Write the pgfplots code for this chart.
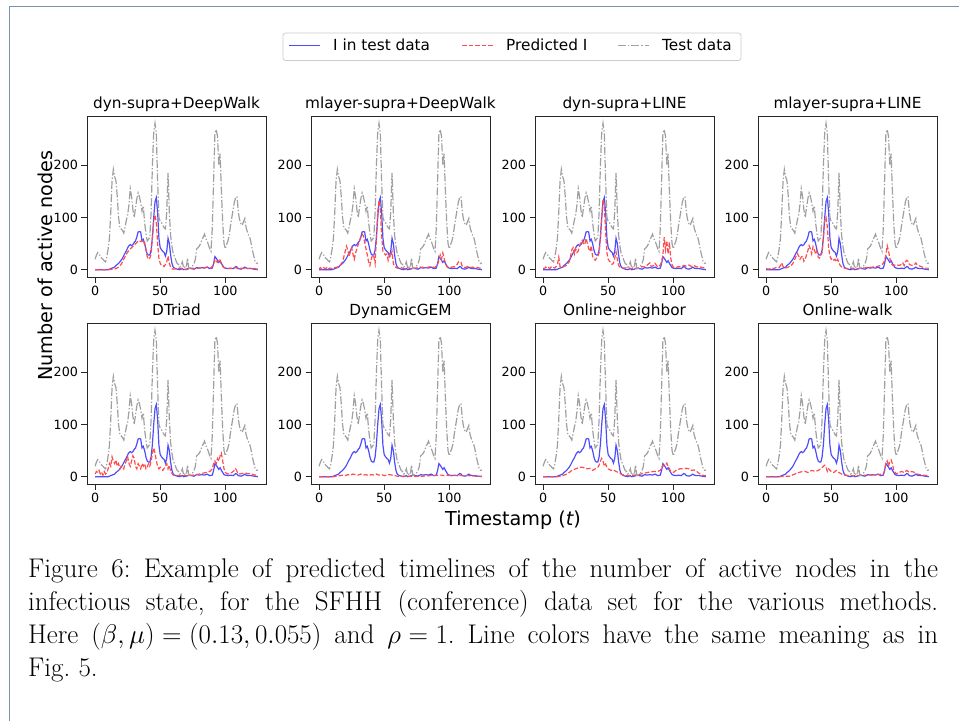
\RequirePackage{fix-cm}
\documentclass[border=0pt]{standalone}
\usepackage{fontspec}
\usepackage{pgfplots}
\usepackage{pgfplotstable}
\pgfplotsset{compat=1.18}
\newfontfamily\dejavu{DejaVu Sans}
\definecolor{framecol}{RGB}{120,146,182}
\definecolor{lineblue}{RGB}{77,77,255}
\definecolor{linered}{RGB}{255,77,77}
\definecolor{linegray}{RGB}{160,160,160}

\newcommand\ticksize{\dejavu\fontsize{12.7pt}{15pt}\selectfont}
\newcommand\titlesize{\dejavu\fontsize{15.3pt}{18pt}\selectfont}
\newcommand\labsize{\dejavu\fontsize{19.2pt}{23pt}\selectfont}
\newcommand\capfont{\fontsize{27pt}{33pt}\selectfont\frenchspacing}

% shared series
\pgfplotstableread[row sep=\\]{t v\\
0 20\\ 1 28\\ 2 33\\ 3 30\\ 4 26\\ 5 22\\ 6 20\\ 7 17\\ 8 15\\ 9 25\\ 10 40\\ 11 60\\ 12 110\\ 13 170\\ 14 192\\ 15 178\\ 16 170\\ 17 140\\ 18 100\\ 19 80\\
20 78\\ 21 75\\ 22 70\\ 23 82\\ 24 95\\ 25 105\\ 26 125\\ 27 155\\ 28 140\\ 29 115\\ 30 100\\ 31 118\\ 32 135\\ 33 147\\ 34 140\\ 35 128\\ 36 112\\ 37 122\\ 38 90\\ 39 70\\
40 55\\ 41 58\\ 42 62\\ 43 110\\ 44 200\\ 45 262\\ 46 280\\ 47 260\\ 48 170\\ 49 100\\ 50 92\\ 51 90\\ 52 85\\ 53 80\\ 54 78\\ 55 110\\ 56 185\\ 57 110\\ 58 65\\ 59 45\\
60 30\\ 61 25\\ 62 18\\ 63 12\\ 64 10\\ 65 5\\ 66 8\\ 67 15\\ 68 3\\ 69 5\\ 70 4\\ 71 22\\ 72 2\\ 73 3\\ 74 5\\ 75 8\\ 76 12\\ 77 20\\ 78 40\\ 79 42\\
80 45\\ 81 50\\ 82 58\\ 83 62\\ 84 68\\ 85 60\\ 86 55\\ 87 48\\ 88 40\\ 89 35\\ 90 80\\ 91 170\\ 92 262\\ 93 268\\ 94 255\\ 95 200\\ 96 222\\ 97 150\\ 98 90\\ 99 50\\
100 40\\ 101 48\\ 102 55\\ 103 65\\ 104 85\\ 105 100\\ 106 115\\ 107 130\\ 108 138\\ 109 140\\ 110 110\\ 111 95\\ 112 88\\ 113 85\\ 114 92\\ 115 98\\ 116 80\\ 117 72\\ 118 65\\ 119 60\\
120 48\\ 121 35\\ 122 25\\ 123 15\\ 124 12\\ 125 13\\
}\testdata

\pgfplotstableread[row sep=\\]{t v\\
0 0\\ 5 0\\ 10 0\\ 11 1\\ 12 2\\ 13 3\\ 14 4\\ 15 5\\ 16 8\\ 17 10\\ 18 12\\ 19 15\\ 20 18\\ 21 22\\ 22 27\\ 23 32\\ 24 36\\ 25 42\\ 26 46\\ 27 48\\ 28 46\\ 29 48\\
30 52\\ 31 55\\ 32 62\\ 33 72\\ 34 73\\ 35 72\\ 36 55\\ 37 58\\ 38 50\\ 39 38\\ 40 30\\ 41 28\\ 42 28\\ 43 38\\ 44 62\\ 45 100\\ 46 130\\ 47 138\\ 48 110\\ 49 60\\
50 42\\ 51 38\\ 52 35\\ 53 33\\ 54 26\\ 55 35\\ 56 60\\ 57 50\\ 58 28\\ 59 12\\ 60 5\\ 61 3\\ 62 2\\ 63 1\\ 65 0\\ 66 1\\ 67 2\\ 68 0\\ 70 1\\ 72 3\\ 74 2\\ 76 1\\ 78 4\\
80 3\\ 82 4\\ 84 3\\ 86 5\\ 88 2\\ 90 3\\ 91 12\\ 92 25\\ 93 22\\ 94 18\\ 95 14\\ 96 17\\ 97 12\\ 98 8\\ 99 4\\ 100 3\\ 102 2\\ 104 3\\ 106 2\\ 108 6\\ 109 5\\
110 2\\ 112 1\\ 114 3\\ 115 5\\ 116 3\\ 118 2\\ 120 2\\ 122 1\\ 125 0\\
}\Idata

% predicted I, one table per method
\pgfplotstableread[row sep=\\]{t v\\
0 0\\ 5 0\\ 10 0\\ 14 1\\ 16 2\\ 18 5\\ 20 10\\ 22 20\\ 24 30\\ 26 37\\ 28 42\\ 30 47\\ 32 52\\ 33 55\\ 34 55\\ 35 54\\ 36 56\\ 37 50\\ 38 52\\ 39 40\\
40 25\\ 41 20\\ 42 22\\ 43 30\\ 44 62\\ 45 92\\ 46 105\\ 47 90\\ 48 50\\ 49 22\\ 50 12\\ 51 8\\ 52 8\\ 53 6\\ 54 10\\ 55 15\\ 56 26\\ 57 12\\ 58 5\\ 59 2\\
60 1\\ 63 2\\ 66 3\\ 70 0\\ 74 3\\ 78 2\\ 80 4\\ 83 3\\ 86 5\\ 89 3\\ 91 10\\ 92 20\\ 93 16\\ 94 14\\ 95 20\\ 96 18\\ 97 10\\ 98 6\\ 100 3\\ 104 2\\ 108 4\\ 110 2\\ 113 3\\ 116 2\\ 120 3\\ 125 1\\
}\predA

\pgfplotstableread[row sep=\\]{t v\\
0 2\\ 1 4\\ 2 1\\ 3 5\\ 4 3\\ 5 2\\ 6 4\\ 7 1\\ 8 3\\ 10 2\\ 12 4\\ 14 5\\ 16 8\\ 18 15\\ 19 25\\ 20 35\\ 21 45\\ 22 38\\ 23 25\\ 24 35\\ 25 42\\ 26 30\\ 27 20\\ 28 32\\ 29 40\\
30 48\\ 31 55\\ 32 62\\ 33 68\\ 34 65\\ 35 52\\ 36 40\\ 37 28\\ 38 15\\ 39 8\\ 40 20\\ 41 28\\ 42 25\\ 43 12\\ 44 60\\ 45 110\\ 46 132\\ 47 115\\ 48 65\\ 49 35\\
50 32\\ 51 28\\ 52 30\\ 53 18\\ 54 28\\ 55 25\\ 56 35\\ 57 12\\ 58 6\\ 60 3\\ 62 5\\ 65 2\\ 68 4\\ 70 2\\ 74 3\\ 78 5\\ 82 4\\ 86 6\\ 89 4\\ 91 10\\ 92 18\\ 93 28\\ 94 20\\ 95 32\\ 96 22\\ 97 12\\ 98 6\\
100 4\\ 102 5\\ 104 6\\ 106 10\\ 107 15\\ 108 16\\ 109 14\\ 110 6\\ 112 4\\ 114 6\\ 116 4\\ 118 5\\ 120 3\\ 122 4\\ 125 2\\
}\predB

\pgfplotstableread[row sep=\\]{t v\\
0 3\\ 1 2\\ 2 5\\ 3 3\\ 4 4\\ 5 2\\ 6 5\\ 7 3\\ 8 4\\ 9 3\\ 10 6\\ 11 10\\ 12 24\\ 13 6\\ 14 4\\ 15 5\\ 16 6\\ 17 7\\ 18 9\\ 19 12\\ 20 15\\ 21 25\\ 22 38\\ 23 42\\ 24 30\\ 25 40\\ 26 33\\ 27 36\\ 28 45\\ 29 52\\
30 56\\ 31 50\\ 32 48\\ 33 60\\ 34 50\\ 35 40\\ 36 35\\ 37 46\\ 38 25\\ 39 22\\ 40 18\\ 41 22\\ 42 26\\ 43 32\\ 44 62\\ 45 100\\ 46 135\\ 47 122\\ 48 72\\ 49 32\\
50 20\\ 51 16\\ 52 14\\ 53 10\\ 54 12\\ 55 22\\ 56 34\\ 57 20\\ 58 8\\ 59 5\\ 60 4\\ 62 3\\ 65 4\\ 68 2\\ 70 3\\ 72 2\\ 74 4\\ 76 6\\ 78 5\\ 80 9\\ 82 13\\ 83 6\\ 85 8\\ 86 12\\ 88 5\\
90 9\\ 91 15\\ 92 28\\ 93 62\\ 94 38\\ 95 55\\ 96 30\\ 97 52\\ 98 22\\ 99 10\\ 100 5\\ 102 4\\ 104 6\\ 106 5\\ 108 8\\ 110 7\\ 112 9\\ 114 6\\ 116 8\\ 118 5\\ 120 6\\ 122 4\\ 125 3\\
}\predC

\pgfplotstableread[row sep=\\]{t v\\
0 2\\ 2 1\\ 4 3\\ 6 2\\ 8 5\\ 10 4\\ 11 8\\ 12 13\\ 13 6\\ 14 3\\ 16 4\\ 18 6\\ 20 10\\ 21 14\\ 22 20\\ 23 26\\ 24 31\\ 25 26\\ 26 20\\ 27 24\\ 28 26\\ 29 16\\
30 20\\ 31 28\\ 32 36\\ 33 46\\ 34 40\\ 35 30\\ 36 44\\ 37 38\\ 38 30\\ 39 36\\ 40 24\\ 41 22\\ 42 30\\ 43 32\\ 44 62\\ 45 95\\ 46 100\\ 47 82\\ 48 42\\ 49 26\\
50 20\\ 51 22\\ 52 18\\ 53 20\\ 54 15\\ 55 20\\ 56 12\\ 57 8\\ 58 5\\ 60 3\\ 63 2\\ 66 3\\ 70 2\\ 74 3\\ 78 4\\ 82 5\\ 85 6\\ 88 8\\ 90 12\\ 91 18\\ 92 28\\ 93 46\\ 94 36\\ 95 22\\ 96 12\\ 97 9\\ 98 8\\
100 10\\ 102 8\\ 104 10\\ 105 13\\ 106 8\\ 107 15\\ 108 18\\ 109 16\\ 110 10\\ 112 8\\ 114 10\\ 115 13\\ 116 9\\ 118 7\\ 120 5\\ 122 3\\ 125 3\\
}\predD

\pgfplotstableread[row sep=\\]{t v\\
0 5\\ 1 10\\ 2 8\\ 3 12\\ 4 5\\ 5 8\\ 6 3\\ 7 10\\ 8 5\\ 9 8\\ 10 15\\ 11 25\\ 12 20\\ 13 38\\ 14 30\\ 15 25\\ 16 32\\ 17 20\\ 18 25\\ 19 15\\ 20 20\\ 21 18\\ 22 15\\ 23 25\\ 24 30\\ 25 38\\ 26 25\\ 27 20\\ 28 30\\ 29 40\\
30 35\\ 31 20\\ 32 15\\ 33 25\\ 34 20\\ 35 15\\ 36 25\\ 37 20\\ 38 25\\ 39 15\\ 40 18\\ 41 25\\ 42 20\\ 43 30\\ 44 45\\ 45 55\\ 46 45\\ 47 30\\ 48 20\\ 49 15\\
50 18\\ 52 12\\ 54 20\\ 55 25\\ 56 15\\ 57 22\\ 58 10\\ 60 3\\ 65 2\\ 70 2\\ 75 3\\ 80 5\\ 85 8\\ 88 10\\ 90 15\\ 91 25\\ 92 30\\ 93 25\\ 94 35\\ 95 30\\ 96 40\\ 97 45\\ 98 30\\ 99 15\\
100 8\\ 102 5\\ 105 8\\ 107 12\\ 108 15\\ 109 10\\ 110 5\\ 115 7\\ 120 5\\ 125 2\\
}\predE

\pgfplotstableread[row sep=\\]{t v\\
0 0\\ 5 0\\ 10 0\\ 14 1\\ 16 2\\ 18 3\\ 20 2\\ 22 4\\ 24 3\\ 26 5\\ 28 4\\ 30 3\\ 32 5\\ 34 3\\ 36 4\\ 38 2\\ 40 4\\ 42 3\\ 44 5\\ 46 3\\ 48 4\\
50 2\\ 52 3\\ 54 4\\ 56 3\\ 58 2\\ 60 1\\ 65 1\\ 70 1\\ 75 1\\ 80 1\\ 85 2\\ 90 2\\ 92 3\\ 94 3\\ 96 2\\ 98 3\\ 100 2\\ 105 2\\ 110 2\\ 115 2\\ 120 1\\ 125 1\\
}\predF

\pgfplotstableread[row sep=\\]{t v\\
0 0\\ 5 0\\ 10 0\\ 14 1\\ 16 3\\ 18 5\\ 20 8\\ 22 12\\ 24 14\\ 26 16\\ 28 18\\ 30 18\\ 32 17\\ 34 15\\ 36 16\\ 38 12\\ 40 15\\ 42 18\\ 43 22\\ 44 30\\ 45 35\\ 46 30\\ 47 20\\ 48 24\\ 49 18\\
50 15\\ 52 12\\ 54 13\\ 56 10\\ 58 8\\ 60 5\\ 62 3\\ 65 2\\ 70 3\\ 75 5\\ 80 8\\ 85 10\\ 88 10\\ 90 12\\ 92 22\\ 93 20\\ 94 21\\ 95 26\\ 96 20\\ 98 10\\
100 8\\ 102 12\\ 105 15\\ 108 15\\ 110 16\\ 112 15\\ 114 12\\ 116 13\\ 118 10\\ 120 6\\ 122 3\\ 125 2\\
}\predG

\pgfplotstableread[row sep=\\]{t v\\
0 0\\ 10 0\\ 18 1\\ 20 3\\ 22 5\\ 25 8\\ 28 10\\ 30 10\\ 32 8\\ 35 12\\ 38 10\\ 40 12\\ 42 15\\ 44 20\\ 45 22\\ 46 18\\ 47 10\\ 48 15\\
50 10\\ 52 8\\ 54 12\\ 56 8\\ 58 5\\ 60 3\\ 65 2\\ 70 2\\ 75 3\\ 80 3\\ 85 4\\ 90 5\\ 91 12\\ 92 25\\ 93 30\\ 94 20\\ 95 30\\ 96 32\\ 97 25\\ 98 12\\
100 5\\ 102 8\\ 104 10\\ 106 8\\ 108 12\\ 110 8\\ 112 10\\ 114 8\\ 116 5\\ 120 3\\ 125 2\\
}\predH

\tikzset{
  Itest/.style={color=lineblue, line width=1.2pt},
  pred/.style={color=linered, line width=1.2pt, dash pattern=on 4.5pt off 2pt},
  tdata/.style={color=linegray, line width=1.2pt, dash pattern=on 8pt off 2pt on 1.3pt off 2pt},
}

\pgfplotsset{
  panel/.style={
    scale only axis, width=179pt, height=161pt,
    xmin=-6.25, xmax=131.25, ymin=-14, ymax=294,
    xtick={0,50,100}, ytick={0,100,200},
    tick align=outside, xtick pos=bottom, ytick pos=left,
    major tick length=5.5pt,
    axis line style={black!85, line width=0.9pt},
    tick style={black!85, line width=0.9pt},
    tick label style={font=\ticksize},
    /pgf/number format/assume math mode=true,
    every axis title shift=0pt,
    title style={font=\titlesize, at={(0.5,1)}, anchor=base, yshift=8pt, inner sep=0pt},
    no markers,
  },
}

\newcommand\panel[4]{%
  \begin{axis}[panel, at={(#1pt,-#2pt)}, anchor=north west, title={#3}]
    \addplot[Itest] table[x=t,y=v]{\Idata};
    \addplot[pred] table[x=t,y=v]{#4};
    \addplot[tdata] table[x=t,y=v]{\testdata};
  \end{axis}}

\begin{document}
\begin{tikzpicture}
\useasboundingbox (0pt,0pt) rectangle (959pt,-721pt);
\draw[framecol, line width=1.3pt] (9.5pt,-721pt) -- (9.5pt,-6.7pt) -- (959pt,-6.7pt);

% legend box (shared by all panels)
\draw[black!20, line width=0.8pt, rounded corners=2.5pt, fill=white] (283pt,-33pt) rectangle (741pt,-60.5pt);
\draw[lineblue, line width=1.5pt] (289pt,-45.5pt) -- (320pt,-45.5pt);
\draw[linered, line width=1.5pt, dash pattern=on 4.5pt off 2pt] (462pt,-45.5pt) -- (493pt,-45.5pt);
\draw[linegray, line width=1.5pt, dash pattern=on 8pt off 2pt on 1.3pt off 2pt] (618pt,-45.5pt) -- (649pt,-45.5pt);
\node[anchor=base west, inner sep=0pt, font=\titlesize] at (333pt,-50.5pt) {I in test data};
\node[anchor=base west, inner sep=0pt, font=\titlesize] at (506pt,-50.5pt) {Predicted I};
\node[anchor=base west, inner sep=0pt, font=\titlesize] at (662pt,-50.5pt) {Test data};

\panel{87}{116}{dyn-supra+DeepWalk}{\predA}
\panel{311}{116}{mlayer-supra+DeepWalk}{\predB}
\panel{535}{116}{dyn-supra+LINE}{\predC}
\panel{758}{116}{mlayer-supra+LINE}{\predD}
\panel{87}{323}{DTriad}{\predE}
\panel{311}{323}{DynamicGEM}{\predF}
\panel{535}{323}{Online-neighbor}{\predG}
\panel{758}{323}{Online-walk}{\predH}

\node[rotate=90, anchor=base, inner sep=0pt, font=\labsize] at (52.5pt,-265.5pt) {Number of active nodes};
\node[anchor=base, inner sep=0pt, font=\labsize] at (513pt,-525pt) {Timestamp ({\itshape t})};

\node[anchor=base west, inner sep=0pt, font=\capfont] at (28pt,-577pt)
  {\makebox[910pt][s]{Figure 6: Example of predicted timelines of the number of active nodes in the}};
\node[anchor=base west, inner sep=0pt, font=\capfont] at (28pt,-610pt)
  {\makebox[910pt][s]{infectious state, for the SFHH (conference) data set for the various methods.}};
\node[anchor=base west, inner sep=0pt, font=\capfont] at (28pt,-643pt)
  {\thickmuskip=5mu\medmuskip=4mu\makebox[910pt][s]{Here $(\beta,\mu)=(0.13,0.055)$ and $\rho=1$. Line colors have the same meaning as in}};
\node[anchor=base west, inner sep=0pt, font=\capfont] at (28pt,-676pt) {Fig.~5.};
\end{tikzpicture}
\end{document}
